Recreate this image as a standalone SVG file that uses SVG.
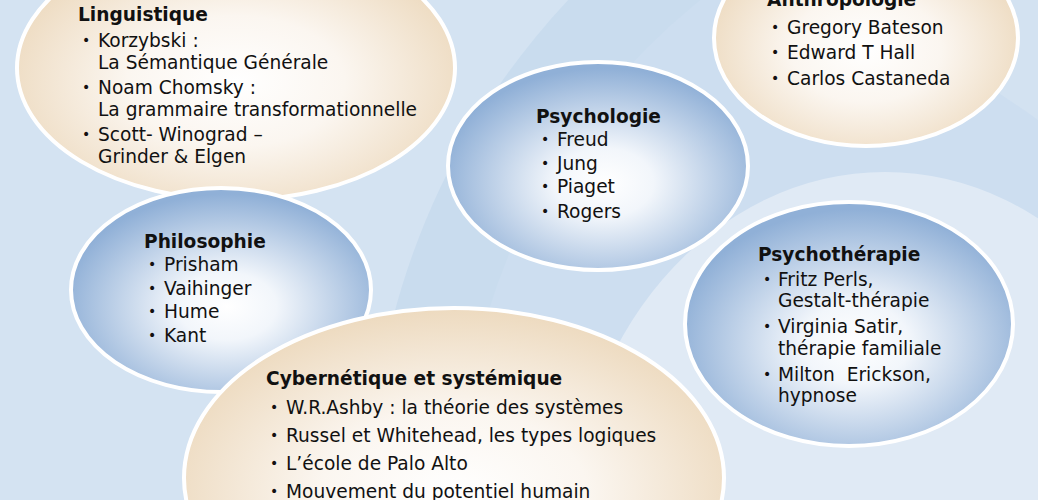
<svg xmlns="http://www.w3.org/2000/svg" width="1038" height="500" viewBox="0 0 1038 500">
<defs>
<radialGradient id="beige" cx="50%" cy="55%" r="55%">
<stop offset="0" stop-color="#ffffff"/>
<stop offset="0.45" stop-color="#fbf6f0"/>
<stop offset="1" stop-color="#eddabf"/>
</radialGradient>
<radialGradient id="blue" cx="52%" cy="58%" r="55%">
<stop offset="0" stop-color="#ffffff"/>
<stop offset="0.3" stop-color="#f2f6fb"/>
<stop offset="1" stop-color="#90b0d7"/>
</radialGradient>
<style>
.b{stroke:#ffffff;stroke-width:4;fill:url(#beige)}
.u{stroke:#ffffff;stroke-width:4;fill:url(#blue)}
text{font-family:"DejaVu Sans","Verdana",sans-serif;font-size:18.6px;fill:#111111}
.h{font-weight:bold}
.d{font-size:14px}
</style>
</defs>
<g id="background">
<rect width="1038" height="500" fill="#d4e3f2"/>
<circle cx="1100" cy="500" r="730" fill="#c9dcee"/>
<circle cx="1100" cy="500" r="640" fill="#cddef0"/>
<path d="M1038 120 Q900 20 760 0 L1038 0 Z" fill="#d3e2f1"/>
<ellipse cx="885" cy="540" rx="315" ry="368" fill="#e0eaf5"/>
</g>
<g id="connectors"/>
<g id="linguistique">
<ellipse class="b" cx="236" cy="68" rx="219" ry="132"/>
<text class="h" x="78" y="21">Linguistique</text>
<text class="d" x="82" y="45">•</text><text x="98" y="47">Korzybski :</text>
<text x="98" y="69">La Sémantique Générale</text>
<text class="d" x="82" y="92">•</text><text x="98" y="94">Noam Chomsky :</text>
<text x="98" y="116">La grammaire transformationnelle</text>
<text class="d" x="82" y="139">•</text><text x="98" y="141">Scott- Winograd –</text>
<text x="98" y="163">Grinder &amp; Elgen</text>
</g>
<g id="anthropologie">
<ellipse class="b" cx="866" cy="38" rx="152" ry="108"/>
<text class="h" x="767" y="6">Anthropologie</text>
<text class="d" x="771" y="32">•</text><text x="787" y="34">Gregory Bateson</text>
<text class="d" x="771" y="57">•</text><text x="787" y="59">Edward T Hall</text>
<text class="d" x="771" y="83">•</text><text x="787" y="85">Carlos Castaneda</text>
</g>
<g id="psychologie">
<ellipse class="u" cx="598" cy="166" rx="150" ry="104"/>
<text class="h" x="536" y="123">Psychologie</text>
<text class="d" x="541" y="144">•</text><text x="557" y="146">Freud</text>
<text class="d" x="541" y="168">•</text><text x="557" y="170">Jung</text>
<text class="d" x="541" y="191">•</text><text x="557" y="193">Piaget</text>
<text class="d" x="541" y="216">•</text><text x="557" y="218">Rogers</text>
</g>
<g id="philosophie">
<ellipse class="u" cx="221" cy="290" rx="150" ry="102"/>
<text class="h" x="144" y="248">Philosophie</text>
<text class="d" x="148" y="269">•</text><text x="164" y="271">Prisham</text>
<text class="d" x="148" y="293">•</text><text x="164" y="295">Vaihinger</text>
<text class="d" x="148" y="316">•</text><text x="164" y="318">Hume</text>
<text class="d" x="148" y="340">•</text><text x="164" y="342">Kant</text>
</g>
<g id="psychotherapie">
<ellipse class="u" cx="849" cy="324" rx="164" ry="122"/>
<text class="h" x="758" y="261">Psychothérapie</text>
<text class="d" x="763" y="284">•</text><text x="778" y="286">Fritz Perls,</text>
<text x="778" y="307">Gestalt-thérapie</text>
<text class="d" x="763" y="331">•</text><text x="778" y="333">Virginia Satir,</text>
<text x="778" y="355">thérapie familiale</text>
<text class="d" x="763" y="379">•</text><text x="778" y="381">Milton&#160; Erickson,</text>
<text x="778" y="402">hypnose</text>
</g>
<g id="cybernetique">
<ellipse class="b" cx="454" cy="478" rx="270" ry="170"/>
<text class="h" x="266" y="385">Cybernétique et systémique</text>
<text class="d" x="270" y="412">•</text><text x="286" y="414">W.R.Ashby : la théorie des systèmes</text>
<text class="d" x="270" y="440">•</text><text x="286" y="442">Russel et Whitehead, les types logiques</text>
<text class="d" x="270" y="468">•</text><text x="286" y="470">L’école de Palo Alto</text>
<text class="d" x="270" y="496">•</text><text x="286" y="498">Mouvement du potentiel humain</text>
</g>
</svg>
